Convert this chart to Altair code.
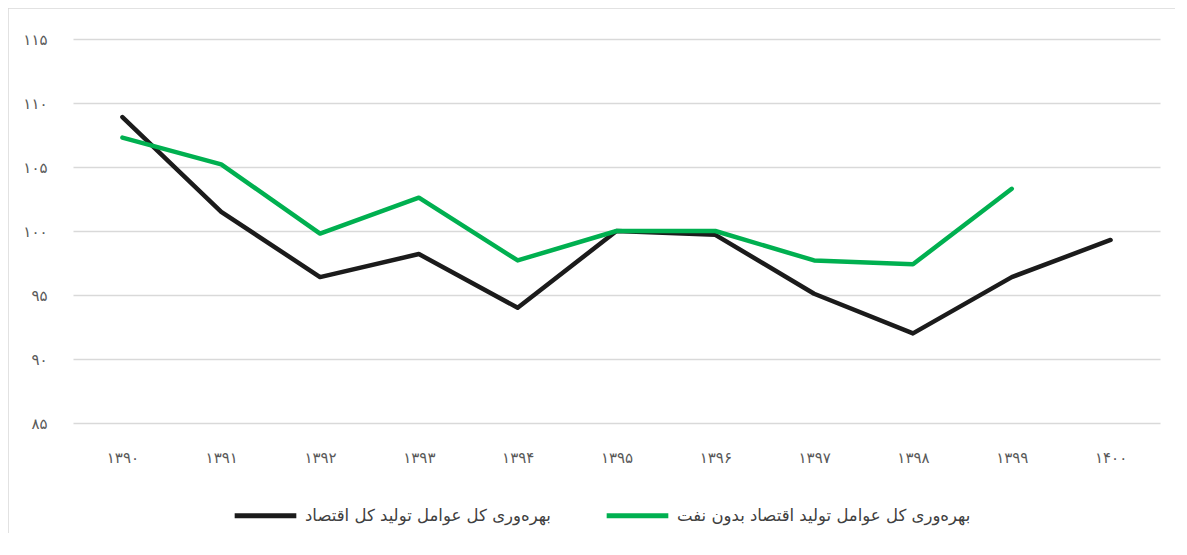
import altair as alt
import pandas as pd

years = ['۱۳۹۰', '۱۳۹۱', '۱۳۹۲', '۱۳۹۳', '۱۳۹۴', '۱۳۹۵', '۱۳۹۶', '۱۳۹۷', '۱۳۹۸', '۱۳۹۹', '۱۴۰۰']
total_tfp = [108.9, 101.5, 96.4, 98.2, 94.0, 100.0, 99.7, 95.1, 92.0, 96.4, 99.3]
non_oil_tfp = [107.3, 105.2, 99.8, 102.6, 97.7, 100.0, 100.0, 97.7, 97.4, 103.3, None]
series_names = ['بهره‌وری کل عوامل تولید کل اقتصاد', 'بهره‌وری کل عوامل تولید اقتصاد بدون نفت']
series_colors = ['#1b1b1b', '#00b050']
y_ticks = [85, 90, 95, 100, 105, 110, 115]
y_tick_labels = ['۸۵', '۹۰', '۹۵', '۱۰۰', '۱۰۵', '۱۱۰', '۱۱۵']

rows = []
for name, vals in zip(series_names, [total_tfp, non_oil_tfp]):
    for yr, v in zip(years, vals):
        if v is not None:
            rows.append({'year': yr, 'value': v, 'series': name})
df = pd.DataFrame(rows)

label_expr = ' : '.join(f"datum.value == {v} ? '{l}'" for v, l in zip(y_ticks, y_tick_labels)) + " : ''"

FONT = 'DejaVu Sans'

lines = alt.Chart(df).mark_line(strokeWidth=4.5, strokeCap='round', strokeJoin='round').encode(
    x=alt.X('year:N', sort=years, title=None,
            axis=alt.Axis(labelAngle=0, domain=False, ticks=False, grid=False,
                          labelPadding=27, labelFontSize=15, labelColor='#595959', labelFont=FONT)),
    y=alt.Y('value:Q', title=None,
            scale=alt.Scale(domain=[85, 115], nice=False, zero=False),
            axis=alt.Axis(values=y_ticks, labelExpr=label_expr, domain=False, ticks=False,
                          gridColor='#d9d9d9', gridWidth=1.5, labelPadding=26,
                          labelFontSize=15, labelColor='#595959', labelFont=FONT)),
    color=alt.Color('series:N', sort=series_names,
                    scale=alt.Scale(domain=series_names, range=series_colors),
                    legend=alt.Legend(title=None, orient='none', direction='horizontal',
                                      legendX=159, legendY=443,
                                      symbolType='stroke', symbolSize=3800, symbolStrokeWidth=5,
                                      labelFontSize=16.5, labelColor='#404040', labelFont=FONT,
                                      labelLimit=0, columnPadding=45, labelOffset=6)),
)

border_df = pd.DataFrame({'a': [0]})
top_border = alt.Chart(border_df).mark_rule(color='#d9d9d9', strokeWidth=1.5).encode(
    x=alt.value(-65), x2=alt.value(1200), y=alt.value(-31))
left_border = alt.Chart(border_df).mark_rule(color='#d9d9d9', strokeWidth=1.5).encode(
    x=alt.value(-65), y=alt.value(-31), y2=alt.value(600))

chart = alt.layer(top_border, left_border, lines).properties(
    width=1087, height=384,
    autosize=alt.AutoSizeParams(type='none'),
    padding={'left': 65, 'top': 31, 'right': 15, 'bottom': 110},
).configure(background='white', view=alt.ViewConfig(stroke=None))

chart.save('out.html', embed_options={'renderer': 'svg', 'actions': False})
